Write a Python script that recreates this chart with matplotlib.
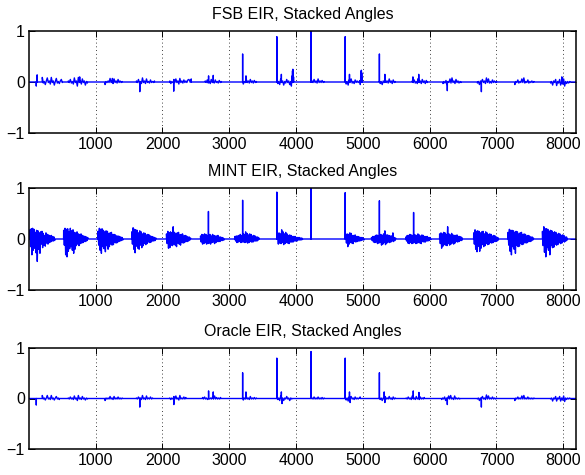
import numpy as np
import matplotlib
matplotlib.use("Agg")
import matplotlib.pyplot as plt

plt.rcParams['font.family'] = ['Liberation Sans', 'DejaVu Sans']
plt.rcParams['path.simplify'] = False

N_SAMPLES = 8192
titles = ["FSB EIR, Stacked Angles", "MINT EIR, Stacked Angles", "Oracle EIR, Stacked Angles"]
xticks = [1000, 2000, 3000, 4000, 5000, 6000, 7000, 8000]
yticks = [-1, 0, 1]

# ---------------- FSB ----------------
fsb_spikes = [(110, -0.08), (123, 0.14), (760, 0.10), (1250, 0.07), (1660, -0.19), (2168, -0.18),
              (2430, 0.06), (2690, 0.12), (2760, 0.13), (3200, 0.55), (3250, 0.12), (3712, 0.89),
              (3780, 0.15), (3930, -0.08), (3942, 0.12), (3947, 0.22), (3952, 0.25), (3957, 0.2),
              (3962, 0.1), (4224, 1.0), (4736, 0.89), (4800, 0.15), (4962, -0.05), (4968, 0.12),
              (4973, 0.21), (4978, 0.23), (4983, 0.18), (4988, 0.08), (5248, 0.55), (5330, 0.15),
              (5750, 0.10), (5837, 0.15), (6265, -0.17), (6775, -0.19), (7980, 0.10)]
fsb_starts = [200, 590, 1140, 1610, 2110, 2640, 3210, 3725, 4240, 4750, 5260, 5740, 6200, 6716, 7276, 7812]
fsb_clusters = [
    [0.09, -0.02, 0.01, -0.05, 0.02, 0.08, -0.01, 0.02, -0.04, 0.09, -0.01, 0.02, -0.06, 0.01, 0.07, -0.02, 0.01, -0.03, 0.02, 0.05, -0.01],
    [0.02, -0.01, 0.05, -0.02, 0.01, -0.04, 0.08, -0.01, 0.02, -0.08, 0.09, -0.01, 0.02, -0.04, 0.06, -0.01, 0.02, -0.06, 0.01, -0.02],
    [-0.05, 0.01, -0.01, 0.02, -0.01, 0.07, -0.01, 0.02, -0.03, 0.06, -0.01, 0.02, -0.02, 0.05, -0.01, 0.02, -0.01, 0.01],
    [0.02, -0.01, 0.05, -0.02, 0.01, -0.03, 0.08, -0.01, 0.02, -0.03, 0.06, -0.01, 0.01, -0.02, 0.04, -0.01, 0.01, -0.01, 0.02],
    [0.02, -0.03, 0.01, -0.01, 0.05, -0.01, 0.06, -0.01, 0.02, -0.04, 0.07, -0.01, 0.02, -0.02, 0.04, -0.01, 0.02, -0.01, 0.04, 0.05, 0.02],
    [0.02, -0.01, 0.04, -0.02, 0.01, -0.03, 0.05, -0.01, 0.02, -0.02, 0.04, -0.01, 0.01, -0.02, 0.03, -0.01, 0.01],
    [-0.04, 0.01, -0.01, 0.05, -0.01, 0.02, -0.02, 0.05, -0.01, 0.02, -0.02, 0.03, -0.01, 0.01],
    [-0.03, 0.01, -0.05, 0.06, -0.01, 0.02, -0.06, 0.01, -0.02, 0.05, -0.01, 0.02, -0.05, 0.01, -0.02],
    [0.02, -0.01, 0.05, -0.01, 0.02, -0.02, 0.06, -0.01, 0.02, -0.01, 0.03, -0.01, 0.01],
    [-0.04, 0.01, -0.06, 0.04, -0.01, 0.06, -0.02, 0.01, -0.03, 0.04, -0.01, 0.02, -0.01, 0.01, 0.03],
    [-0.03, 0.01, -0.05, 0.02, -0.01, 0.05, -0.01, 0.02, -0.02, 0.06, -0.01, 0.02, -0.03, 0.04, -0.01, 0.01],
    [0.02, -0.01, 0.04, -0.02, 0.01, -0.03, 0.07, -0.01, 0.02, -0.03, 0.05, -0.01, 0.02, -0.03, 0.03, -0.01],
    [-0.03, 0.01, -0.02, 0.03, -0.05, 0.01, -0.01, 0.06, -0.02, 0.08, -0.01, 0.02, -0.03, 0.05, -0.01, 0.02, -0.02, 0.01, -0.01],
    [-0.02, 0.01, -0.05, 0.02, -0.01, 0.05, -0.01, 0.02, -0.03, 0.08, -0.01, 0.06, -0.02, 0.01, -0.02, 0.04, -0.01, 0.02, -0.01, 0.01],
    [-0.05, 0.01, -0.01, 0.04, -0.02, 0.01, -0.01, 0.06, -0.01, 0.08, -0.02, 0.01, -0.01, 0.04, -0.02, 0.01, -0.01, 0.02, -0.01, 0.01],
    [-0.02, 0.01, -0.06, 0.02, -0.01, 0.05, -0.07, 0.01, -0.02, 0.05, -0.06, 0.01, -0.04, 0.06, -0.08, 0.01, -0.03, 0.01, -0.02, 0.01],
]

# ---------------- MINT ----------------
mint_spikes = [(2688, 0.54), (3200, 0.76), (3712, 0.92), (4224, 1.0), (4736, 0.91), (5248, 0.75), (5760, 0.52)]
mint_starts = [15, 520, 1035, 1540, 2060, 2570, 3085, 3725, 4745, 5130, 5645, 6150, 6660, 7175, 7690]
mint_bursts = [
    [0.18, -0.15, 0.20, -0.31, 0.21, -0.22, 0.19, -0.18, 0.13, -0.27, 0.17, -0.44, 0.16, -0.20, 0.12, -0.28, 0.14, -0.10, 0.15,
     -0.17, 0.11, -0.12, 0.07, -0.14, 0.12, -0.08, 0.09, -0.10, 0.08, -0.07, 0.06, -0.06, 0.07, -0.04, 0.05, -0.04, 0.04, -0.03],
    [0.17, -0.12, 0.21, -0.31, 0.19, -0.35, 0.20, -0.24, 0.14, -0.19, 0.21, -0.15, 0.16, -0.22, 0.18, -0.28, 0.13, -0.20, 0.12,
     -0.13, 0.14, -0.10, 0.10, -0.13, 0.09, -0.09, 0.10, -0.08, 0.07, -0.07, 0.06, -0.05, 0.05, -0.05, 0.04, -0.03, 0.03],
    [0.15, -0.12, 0.21, -0.22, 0.19, -0.28, 0.20, -0.15, 0.17, -0.19, 0.14, -0.25, 0.16, -0.13, 0.15, -0.20, 0.11, -0.15, 0.12,
     -0.10, 0.13, -0.12, 0.09, -0.11, 0.09, -0.07, 0.08, -0.08, 0.06, -0.07, 0.06, -0.05, 0.05, -0.04, 0.04, -0.03, 0.03, -0.02],
    [0.14, -0.10, 0.22, -0.20, 0.19, -0.27, 0.18, -0.14, 0.17, -0.18, 0.12, -0.20, 0.16, -0.12, 0.14, -0.17, 0.10, -0.13, 0.12,
     -0.09, 0.11, -0.11, 0.08, -0.09, 0.09, -0.06, 0.08, -0.07, 0.06, -0.06, 0.05, -0.04, 0.04, -0.04, 0.03, -0.03, 0.02],
    [0.10, -0.09, 0.15, -0.18, 0.12, -0.17, 0.14, -0.12, 0.12, -0.13, 0.24, -0.10, 0.13, -0.12, 0.10, -0.15, 0.12, -0.08, 0.13,
     -0.10, 0.08, -0.12, 0.09, -0.07, 0.10, -0.08, 0.06, -0.07, 0.07, -0.05, 0.06, -0.05, 0.04, -0.04, 0.04, -0.02, 0.02],
    [0.06, -0.06, 0.09, -0.10, 0.08, -0.09, 0.10, -0.07, 0.09, -0.10, 0.07, -0.09, 0.07, -0.08, 0.09, -0.10, 0.06, -0.07, 0.09,
     -0.06, 0.07, -0.09, 0.06, -0.07, 0.06, -0.05, 0.07, -0.05, 0.04, -0.05, 0.04, -0.03, 0.03, -0.03, 0.02, -0.02],
    [0.05, -0.04, 0.06, -0.07, 0.06, -0.06, 0.07, -0.05, 0.09, -0.07, 0.07, -0.06, 0.10, -0.06, 0.09, -0.07, 0.14, -0.06, 0.11,
     -0.08, 0.08, -0.07, 0.10, -0.05, 0.09, -0.06, 0.06, -0.06, 0.07, -0.04, 0.06, -0.04, 0.04, -0.04, 0.04, -0.02, 0.02],
    [0.06, -0.10, 0.12, -0.08, 0.10, -0.09, 0.18, -0.07, 0.14, -0.11, 0.10, -0.09, 0.13, -0.07, 0.10, -0.08, 0.07, -0.09, 0.08,
     -0.06, 0.07, -0.06, 0.05, -0.06, 0.05, -0.04, 0.05, -0.04, 0.03, -0.04, 0.03, -0.02, 0.03, -0.02, 0.02, -0.02, 0.02, -0.01],
    [0.04, -0.08, 0.10, -0.15, 0.09, -0.10, 0.12, -0.07, 0.11, -0.08, 0.07, -0.09, 0.07, -0.05, 0.08, -0.06, 0.05, -0.05, 0.05,
     -0.04, 0.04, -0.04, 0.03, -0.03, 0.03, -0.02, 0.02, -0.02],
    [0.03, -0.03, 0.05, -0.06, 0.05, -0.07, 0.07, -0.06, 0.08, -0.09, 0.06, -0.08, 0.08, -0.07, 0.09, -0.12, 0.07, -0.10, 0.10,
     -0.07, 0.16, -0.11, 0.08, -0.08, 0.08, -0.06, 0.07, -0.07, 0.06, -0.06, 0.06, -0.04, 0.12, -0.05, 0.03, -0.03, 0.02],
    [0.04, -0.04, 0.07, -0.08, 0.07, -0.09, 0.09, -0.07, 0.08, -0.09, 0.07, -0.08, 0.09, -0.07, 0.08, -0.09, 0.07, -0.08, 0.10,
     -0.07, 0.08, -0.08, 0.06, -0.09, 0.08, -0.05, 0.07, -0.06, 0.05, -0.06, 0.05, -0.04, 0.05, -0.04, 0.03, -0.03, 0.03, -0.01],
    [0.10, -0.09, 0.12, -0.18, 0.10, -0.14, 0.13, -0.11, 0.12, -0.12, 0.09, -0.13, 0.24, -0.09, 0.10, -0.12, 0.08, -0.10, 0.11,
     -0.08, 0.08, -0.10, 0.07, -0.08, 0.07, -0.05, 0.08, -0.06, 0.05, -0.05, 0.05, -0.03, 0.04, -0.03, 0.02],
    [0.12, -0.10, 0.18, -0.20, 0.15, -0.25, 0.16, -0.14, 0.15, -0.24, 0.12, -0.18, 0.14, -0.11, 0.15, -0.15, 0.10, -0.13, 0.14,
     -0.09, 0.12, -0.11, 0.09, -0.10, 0.10, -0.07, 0.09, -0.08, 0.06, -0.07, 0.07, -0.05, 0.06, -0.05, 0.04, -0.04, 0.03, -0.02],
    [0.13, -0.12, 0.19, -0.24, 0.17, -0.31, 0.17, -0.15, 0.16, -0.20, 0.13, -0.28, 0.15, -0.12, 0.14, -0.15, 0.10, -0.14, 0.12,
     -0.09, 0.13, -0.11, 0.09, -0.10, 0.10, -0.07, 0.09, -0.08, 0.06, -0.07, 0.07, -0.05, 0.06, -0.05, 0.04, -0.04, 0.04, -0.02, 0.02],
    [0.15, -0.13, 0.24, -0.26, 0.20, -0.35, 0.20, -0.17, 0.19, -0.22, 0.15, -0.31, 0.17, -0.13, 0.16, -0.17, 0.12, -0.16, 0.14,
     -0.10, 0.13, -0.12, 0.09, -0.11, 0.11, -0.07, 0.10, -0.09, 0.07, -0.08, 0.08, -0.05, 0.07, -0.06, 0.04, -0.04, 0.04, -0.02],
]

# ---------------- Oracle ----------------
oracle_spikes = [(110, -0.13), (1660, -0.17), (2170, -0.12), (2690, 0.15), (2760, 0.13), (3200, 0.51),
                 (3250, 0.13), (3712, 0.80), (3780, 0.13), (3790, -0.10), (4224, 0.93), (4736, 0.80),
                 (4800, 0.13), (4810, -0.08), (5248, 0.51), (5320, 0.13), (5330, -0.08), (5755, 0.15),
                 (5840, 0.12), (6265, -0.12), (6775, -0.17)]
oracle_starts = [200, 590, 1140, 1610, 2110, 2600, 3210, 3725, 4240, 4750, 5260, 5650, 6180, 6716, 7276, 7812]
oracle_clusters = [
    [0.06, -0.01, 0.01, -0.03, 0.01, 0.06, -0.01, 0.01, -0.02, 0.06, -0.01, 0.01, -0.03, 0.01, 0.04, -0.01, 0.01, -0.02],
    [0.01, -0.01, 0.03, -0.01, 0.01, -0.02, 0.05, -0.01, 0.01, -0.04, 0.06, -0.01, 0.01, -0.02, 0.04, -0.01, 0.01, -0.03, 0.01, -0.01],
    [-0.04, 0.01, -0.01, 0.01, -0.01, 0.04, -0.01, 0.01, -0.02, 0.04, -0.01, 0.01, -0.01, 0.03, -0.01, 0.01, -0.01, 0.01],
    [0.01, -0.01, 0.03, -0.01, 0.01, -0.02, 0.06, -0.01, 0.01, -0.02, 0.05, -0.01, 0.01, -0.01, 0.03, -0.01, 0.01],
    [0.01, -0.02, 0.01, -0.01, 0.04, -0.01, 0.05, -0.01, 0.01, -0.03, 0.06, -0.01, 0.01, -0.01, 0.03, -0.01, 0.02],
    [0.02, -0.01, 0.03, -0.01, 0.01, -0.02, 0.04, -0.01, 0.01, -0.01, 0.03, -0.01, 0.05, -0.01, 0.02, -0.01, 0.01, -0.01, 0.02],
    [-0.03, 0.01, -0.01, 0.04, -0.01, 0.01, -0.02, 0.04, -0.01, 0.01, -0.01, 0.02, -0.01, 0.01],
    [-0.02, 0.01, -0.04, 0.05, -0.01, 0.01, -0.04, 0.01, -0.01, 0.04, -0.01, 0.01, -0.04, 0.01, -0.01],
    [0.01, -0.01, 0.03, -0.01, 0.01, -0.01, 0.03, -0.01, 0.01, -0.01, 0.02, -0.01, 0.01],
    [-0.03, 0.01, -0.05, 0.03, -0.01, 0.04, -0.01, 0.01, -0.02, 0.03, -0.01, 0.01, -0.01, 0.01, 0.03],
    [-0.02, 0.01, -0.04, 0.01, -0.01, 0.04, -0.01, 0.01, -0.01, 0.04, -0.01, 0.01, -0.02, 0.03, -0.01, 0.01],
    [0.01, -0.01, 0.03, -0.01, 0.01, -0.02, 0.05, -0.01, 0.01, -0.02, 0.04, -0.01, 0.01, -0.02, 0.03, -0.01, 0.01, -0.01, 0.02],
    [-0.02, 0.01, -0.01, 0.03, -0.04, 0.01, -0.01, 0.05, -0.01, 0.06, -0.01, 0.01, -0.02, 0.05, -0.01, 0.01, -0.01, 0.01, -0.01],
    [-0.01, 0.01, -0.04, 0.01, -0.01, 0.04, -0.01, 0.01, -0.02, 0.07, -0.01, 0.05, -0.01, 0.01, -0.01, 0.03, -0.01, 0.01, -0.01, 0.01],
    [-0.04, 0.01, -0.01, 0.03, -0.01, 0.01, -0.01, 0.05, -0.01, 0.06, -0.01, 0.01, -0.01, 0.03, -0.01, 0.01, -0.01, 0.01, -0.01, 0.01],
    [-0.01, 0.01, -0.05, 0.01, -0.01, 0.04, -0.05, 0.01, -0.01, 0.04, -0.05, 0.01, -0.03, 0.05, -0.06, 0.01, -0.02, 0.01, -0.01, 0.01],
]


def build(starts, groups, stride, spikes):
    """Return (x, y) sample points: noisy groups sampled every `stride` samples, plus isolated taps."""
    xs, ys = [1, N_SAMPLES], [0.0, 0.0]
    for start, vals in zip(starts, groups):
        idx = start + stride * np.arange(len(vals))
        xs += [start - 1] + list(idx) + [idx[-1] + 1]
        ys += [0.0] + list(vals) + [0.0]
    for s, v in spikes:
        xs += [s - 1, s, s + 1]
        ys += [0.0, v, 0.0]
    xs = np.asarray(xs, dtype=float)
    ys = np.asarray(ys, dtype=float)
    order = np.argsort(xs, kind="stable")
    return xs[order], ys[order]


signals = [
    build(fsb_starts, fsb_clusters, 15, fsb_spikes),
    build(mint_starts, mint_bursts, 10, mint_spikes),
    build(oracle_starts, oracle_clusters, 15, oracle_spikes),
]

fig = plt.figure(figsize=(5.85, 4.75), dpi=100)
W, H = 585.0, 475.0
boxes = [(31, 133), (188, 290), (348, 449)]
for k, (top, bot) in enumerate(boxes):
    ax = fig.add_axes([29 / W, 1 - bot / H, (576 - 29) / W, (bot - top) / H])
    x, y = signals[k]
    ax.plot(x, y, color=(0, 0, 1), lw=1.0)
    ax.set_xlim(1, N_SAMPLES)
    ax.set_ylim(-1, 1)
    ax.set_xticks(xticks)
    ax.set_yticks(yticks)
    ax.xaxis.grid(True, linestyle=(0, (1, 3.5)), color='k', lw=0.6)
    ax.tick_params(direction='in', top=True, right=True, length=4, width=0.7, labelsize=11.5, pad=3)
    for sp in ax.spines.values():
        sp.set_linewidth(1.1)
    ax.set_title(titles[k], fontsize=11.5, pad=8.5)

fig.savefig("out.png", dpi=100)
